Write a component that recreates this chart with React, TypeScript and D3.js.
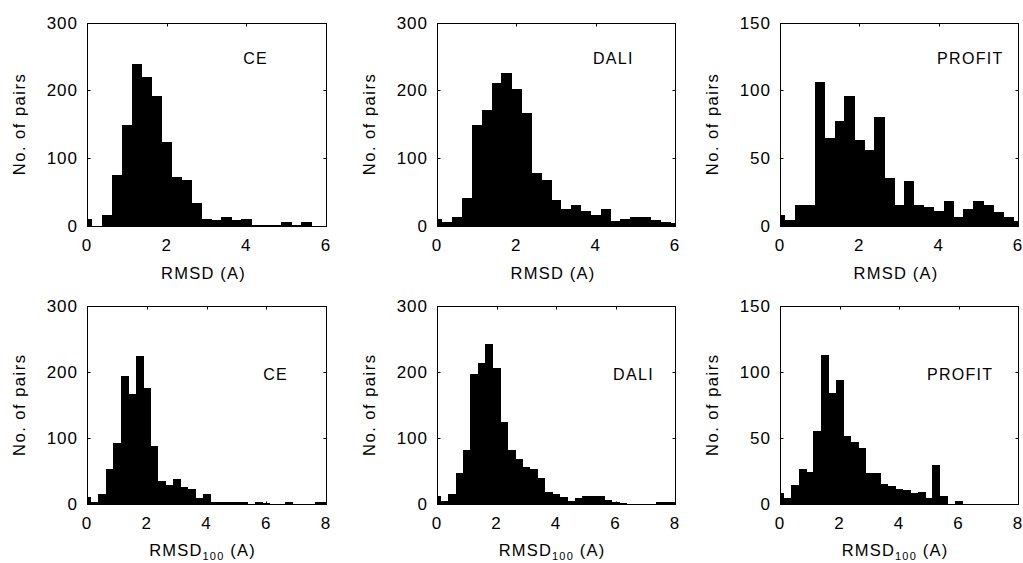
import React from "react";
import * as d3 from "d3";

// ---------- data (bin centers at k * 0.25) ----------
const binWidth = 0.25;

const methods = ["CE", "DALI", "PROFIT"];

// Top row: RMSD (A), x from 0 to 6
const topCE = [9, 0, 15, 75, 148, 239, 220, 191, 123, 72, 67, 33, 10, 8, 13, 8, 10, 1, 1, 1, 5, 1, 5, 0, 0];
const topDALI = [9, 5, 13, 41, 148, 171, 211, 225, 202, 166, 78, 67, 38, 24, 30, 22, 15, 24, 7, 10, 12, 13, 8, 5, 3];
const topPROFIT = [8, 4, 15, 15, 106, 65, 77, 96, 63, 56, 80, 35, 15, 33, 15, 14, 11, 18, 6, 12, 18, 15, 10, 6, 3];

// Bottom row: RMSD100 (A), x from 0 to 8
const bottomCE = [10, 2, 14, 52, 92, 194, 167, 224, 176, 87, 34, 28, 37, 25, 22, 9, 14, 3, 3, 2, 3, 3, 0, 3, 1, 0, 0, 3, 0, 0, 0, 3, 3];
const bottomDALI = [11, 4, 14, 46, 81, 196, 214, 242, 206, 124, 81, 67, 55, 53, 38, 17, 14, 10, 4, 9, 12, 11, 12, 6, 3, 1, 0, 0, 0, 0, 3, 3, 2];
const bottomPROFIT = [8, 4, 14, 26, 24, 55, 113, 84, 94, 51, 47, 42, 23, 23, 15, 13, 11, 10, 8, 9, 4, 29, 6, 0, 2, 0, 0, 0, 0, 0, 0, 0, 0];

const xTicksTop = [0, 2, 4, 6];
const xTicksBottom = [0, 2, 4, 6, 8];
const yTicks300 = [0, 100, 200, 300];
const yTicks150 = [0, 50, 100, 150];

const yLabel = "No. of pairs";

// ---------- layout ----------
const W = 1023;
const H = 563;
const colX: [number, number][] = [
  [87, 326],
  [437, 675],
  [780, 1018],
];
const rowY: [number, number][] = [
  [22.5, 225.5],
  [306, 503.5],
];

const FONT = "'Liberation Sans', Arial, Helvetica, sans-serif";

type PanelProps = {
  values: number[];
  xMax: number;
  yMax: number;
  xTicks: number[];
  yTicks: number[];
  x: [number, number];
  y: [number, number];
  label: string;
  labelPos: [number, number]; // data coords
  sub: boolean;
};

function Panel({ values, xMax, yMax, xTicks, yTicks, x, y, label, labelPos, sub }: PanelProps) {
  const xs = d3.scaleLinear().domain([0, xMax]).range(x);
  const ys = d3.scaleLinear().domain([0, yMax]).range([y[1], y[0]]);
  const tick = 3;
  const left = Math.round(x[0]) + 0.5;
  const right = Math.round(x[1]) + 0.5;
  const top = Math.round(y[0]) + 0.5;
  const bottom = Math.round(y[1]) + 0.5;
  const cx = (x[0] + x[1]) / 2;
  const cy = (y[0] + y[1]) / 2;

  return (
    <g>
      <g shapeRendering="crispEdges">
        {values.map((v, i) => {
          const c = i * binWidth;
          const x0 = Math.max(0, c - binWidth / 2);
          const x1 = Math.min(xMax, c + binWidth / 2);
          if (v <= 0) return null;
          return (
            <rect
              key={i}
              x={xs(x0)}
              width={xs(x1) - xs(x0) + 0.5}
              y={ys(v)}
              height={ys(0) - ys(v) + 0.5}
              fill="#000"
            />
          );
        })}
      </g>
      <rect x={left} y={top} width={right - left} height={bottom - top} fill="none" stroke="#000" strokeWidth={1} />
      {xTicks.map((t) => {
        const px = Math.round(xs(t)) + 0.5;
        return (
          <g key={"xt" + t}>
            <line x1={px} x2={px} y1={bottom} y2={bottom - tick} stroke="#000" />
            <line x1={px} x2={px} y1={top} y2={top + tick} stroke="#000" />
            <text
              x={xs(t)}
              y={y[1] + 25.5}
              textAnchor="middle"
              fontSize={17}
              fontFamily={FONT}
              letterSpacing={1}
              fill="#000"
            >
              {t}
            </text>
          </g>
        );
      })}
      {yTicks.map((t) => {
        const py = Math.round(ys(t)) + 0.5;
        return (
          <g key={"yt" + t}>
            <line x1={left} x2={left + tick} y1={py} y2={py} stroke="#000" />
            <line x1={right} x2={right - tick} y1={py} y2={py} stroke="#000" />
            <text
              x={x[0] - 9}
              y={ys(t)}
              dy="0.36em"
              textAnchor="end"
              fontSize={17}
              fontFamily={FONT}
              letterSpacing={1}
              fill="#000"
            >
              {t}
            </text>
          </g>
        );
      })}
      <text
        transform={`translate(${x[0] - 62},${cy}) rotate(-90)`}
        textAnchor="middle"
        fontSize={16.5}
        fontFamily={FONT}
        letterSpacing={1.5}
        fill="#000"
      >
        {yLabel}
      </text>
      {sub ? (
        <text x={cx - 4} y={y[1] + 52.5} textAnchor="middle" fontSize={16.5} fontFamily={FONT} letterSpacing={1.2} fill="#000">
          RMSD
          <tspan fontSize={11} dy={4}>100</tspan>
          <tspan dy={-4}> (A)</tspan>
        </text>
      ) : (
        <text x={cx - 3} y={y[1] + 53.5} textAnchor="middle" fontSize={16.5} fontFamily={FONT} letterSpacing={1.2} fill="#000">
          RMSD (A)
        </text>
      )}
      <text
        x={xs(labelPos[0])}
        y={ys(labelPos[1])}
        fontSize={16}
        fontFamily={FONT}
        letterSpacing={1.3}
        fill="#000"
      >
        {label}
      </text>
    </g>
  );
}

export default function App() {
  const topSeries = [topCE, topDALI, topPROFIT];
  const bottomSeries = [bottomCE, bottomDALI, bottomPROFIT];
  const yMaxes = [300, 300, 150];
  const topLabelPos: [number, number][] = [
    [3.92, 239],
    [3.93, 239],
    [3.96, 119.5],
  ];
  const bottomLabelPos: [number, number][] = [
    [5.9, 187.5],
    [5.92, 187.5],
    [4.94, 93.8],
  ];
  return (
    <svg
      width={W}
      height={H}
      viewBox={`0 0 ${W} ${H}`}
      style={{ position: "absolute", left: 0, top: 0, background: "#fff" }}
    >
      <rect x={0} y={0} width={W} height={H} fill="#fff" />
      {methods.map((m, i) => (
        <Panel
          key={"top" + m}
          values={topSeries[i]}
          xMax={6}
          yMax={yMaxes[i]}
          xTicks={xTicksTop}
          yTicks={yMaxes[i] === 300 ? yTicks300 : yTicks150}
          x={colX[i]}
          y={rowY[0]}
          label={m}
          labelPos={topLabelPos[i]}
          sub={false}
        />
      ))}
      {methods.map((m, i) => (
        <Panel
          key={"bot" + m}
          values={bottomSeries[i]}
          xMax={8}
          yMax={yMaxes[i]}
          xTicks={xTicksBottom}
          yTicks={yMaxes[i] === 300 ? yTicks300 : yTicks150}
          x={colX[i]}
          y={rowY[1]}
          label={m}
          labelPos={bottomLabelPos[i]}
          sub={true}
        />
      ))}
    </svg>
  );
}
